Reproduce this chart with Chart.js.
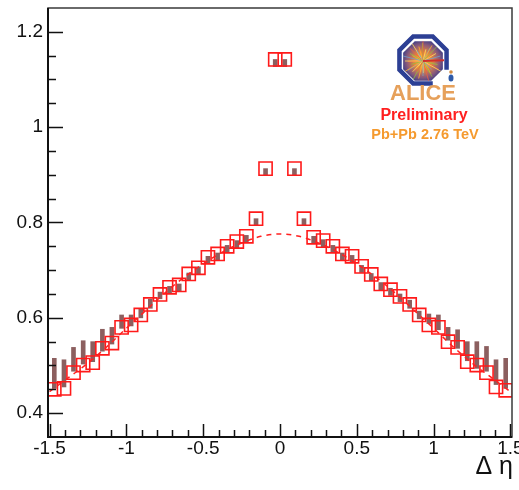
<!DOCTYPE html>
<html lang="en">

<head>
    <meta charset="UTF-8">
    <title>Delta eta projection</title>
    <style>
        body { margin: 0; background: #fff; }
        #grafica { display: block; }
    </style>
    <script src="https://cdn.jsdelivr.net/npm/chart.js@4.4.1/dist/chart.umd.min.js"></script>
</head>

<body>
    <canvas id="grafica" width="519" height="490"></canvas>
    <script>
        // Bin centres in delta eta (bin width 0.0625)
        const etaBins = [-1.469, -1.406, -1.344, -1.281, -1.219, -1.156, -1.094, -1.031, -0.969, -0.906, -0.844, -0.781,
            -0.719, -0.656, -0.594, -0.531, -0.469, -0.406, -0.344, -0.281, -0.219, -0.156, -0.094, -0.031,
            0.031, 0.094, 0.156, 0.219, 0.281, 0.344, 0.406, 0.469, 0.531, 0.594, 0.656, 0.719, 0.781, 0.844,
            0.906, 0.969, 1.031, 1.094, 1.156, 1.219, 1.281, 1.344, 1.406, 1.469];
        // Correlation values (open squares)
        const corrValues = [0.450, 0.452, 0.485, 0.501, 0.506, 0.536, 0.547, 0.580, 0.585, 0.606, 0.628, 0.649,
            0.664, 0.669, 0.692, 0.705, 0.727, 0.734, 0.750, 0.760, 0.771, 0.808, 0.913, 1.142,
            1.142, 0.913, 0.808, 0.769, 0.762, 0.750, 0.734, 0.729, 0.708, 0.691, 0.671, 0.659, 0.645, 0.628,
            0.606, 0.585, 0.580, 0.550, 0.538, 0.508, 0.501, 0.485, 0.455, 0.448];
        // Systematic boxes, lower and upper edge
        const sysLow = [0.452, 0.455, 0.488, 0.503, 0.508, 0.530, 0.545, 0.578, 0.583, 0.600, 0.620, 0.640,
            0.652, 0.657, 0.680, 0.692, 0.714, 0.721, 0.737, 0.747, 0.758, 0.794, 0.899, 1.127,
            1.127, 0.899, 0.794, 0.756, 0.749, 0.737, 0.721, 0.716, 0.695, 0.678, 0.659, 0.647, 0.634, 0.620,
            0.598, 0.588, 0.575, 0.553, 0.536, 0.510, 0.494, 0.488, 0.460, 0.452];
        const sysHigh = [0.515, 0.512, 0.538, 0.552, 0.550, 0.576, 0.580, 0.606, 0.606, 0.619, 0.639, 0.654,
            0.666, 0.671, 0.694, 0.707, 0.729, 0.736, 0.752, 0.762, 0.773, 0.808, 0.913, 1.142,
            1.142, 0.913, 0.808, 0.771, 0.764, 0.752, 0.736, 0.731, 0.710, 0.693, 0.674, 0.662, 0.650, 0.637,
            0.614, 0.608, 0.606, 0.580, 0.575, 0.550, 0.550, 0.540, 0.512, 0.515];
        // Dashed fit curve
        const fitEta = [-1.5, -1.375, -1.25, -1.125, -1.0, -0.875, -0.75, -0.625, -0.5, -0.375, -0.25, -0.125, 0,
            0.125, 0.25, 0.375, 0.5, 0.625, 0.75, 0.875, 1.0, 1.125, 1.25, 1.375, 1.5];
        const fitValues = [0.445, 0.475, 0.505, 0.540, 0.578, 0.615, 0.652, 0.685, 0.713, 0.738, 0.757, 0.771, 0.776,
            0.771, 0.757, 0.738, 0.713, 0.685, 0.652, 0.615, 0.578, 0.540, 0.505, 0.475, 0.445];
        // Labelled ticks
        const xTickLabels = [-1.5, -1, -0.5, 0, 0.5, 1, 1.5];
        const yTickLabels = [0.4, 0.6, 0.8, 1, 1.2];

        const fuente = "'Liberation Sans', Arial, sans-serif";

        const esEtiqueta = (lista, v) => lista.some(t => Math.abs(t - v) < 1e-6);

        // minor tick positions: every 0.1 on x, every 0.05 on y
        const xMarcas = [];
        for (let k = -15; k <= 15; k++) xMarcas.push(k / 10);
        const yMarcas = [];
        for (let k = 8; k <= 24; k++) yMarcas.push(k / 20);

        // Octagon path with flat top and bottom
        function octagonPoints(cx, cy, r) {
            const pts = [];
            for (let k = 0; k < 8; k++) {
                const a = Math.PI / 8 + k * Math.PI / 4;
                pts.push([cx + r * Math.cos(a), cy + r * Math.sin(a)]);
            }
            return pts;
        }

        function drawLogo(ctx) {
            ctx.save();
            // blue frame, open at the bottom
            const outer = octagonPoints(423, 60, 25.5);
            ctx.beginPath();
            ctx.moveTo(outer[1][0], outer[1][1]);
            for (let k = 2; k < 8; k++) ctx.lineTo(outer[k][0], outer[k][1]);
            ctx.lineTo(outer[0][0], outer[0][1]);
            ctx.strokeStyle = '#2c3f94';
            ctx.lineWidth = 4.5;
            ctx.lineJoin = 'miter';
            ctx.stroke();

            // inner detector view
            const inner = octagonPoints(423, 61, 21.5);
            ctx.beginPath();
            inner.forEach((p, i) => i ? ctx.lineTo(p[0], p[1]) : ctx.moveTo(p[0], p[1]));
            ctx.closePath();
            const g = ctx.createRadialGradient(423, 61, 1, 423, 61, 21.5);
            g.addColorStop(0, '#ffd24a');
            g.addColorStop(0.35, '#ef8a3a');
            g.addColorStop(0.75, '#8a5a7a');
            g.addColorStop(1, '#3d3d86');
            ctx.fillStyle = g;
            ctx.fill();
            ctx.save();
            ctx.clip();
            const colores = ['#ffb030', '#8fbf40', '#f06040', '#ffe060', '#6aa0d0'];
            for (let k = 0; k < 36; k++) {
                const a = k * Math.PI / 18 + (k % 3) * 0.07;
                const len = 12 + (k % 4) * 3;
                ctx.beginPath();
                ctx.moveTo(423, 61);
                ctx.lineTo(423 + len * Math.cos(a), 61 + len * Math.sin(a));
                ctx.strokeStyle = colores[k % colores.length];
                ctx.lineWidth = 0.8;
                ctx.stroke();
            }
            ctx.restore();
            ctx.strokeStyle = '#d0302c';
            ctx.lineWidth = 2;
            ctx.stroke();

            // little figure
            ctx.fillStyle = '#d08a40';
            ctx.beginPath();
            ctx.arc(451, 72, 1.8, 0, Math.PI * 2);
            ctx.fill();
            ctx.fillStyle = '#2f5aa8';
            ctx.beginPath();
            ctx.ellipse(451, 78, 2.5, 3.5, 0, 0, Math.PI * 2);
            ctx.fill();

            ctx.textAlign = 'center';
            ctx.textBaseline = 'alphabetic';
            ctx.fillStyle = '#e6a05a';
            ctx.font = "bold 22px " + fuente;
            ctx.fillText('ALICE', 423, 100);
            ctx.fillStyle = '#ff1f1f';
            ctx.font = "bold 16px " + fuente;
            ctx.fillText('Preliminary', 424, 120);
            ctx.fillStyle = '#f59a2e';
            ctx.font = "bold 14.5px " + fuente;
            ctx.fillText('Pb+Pb 2.76 TeV', 425, 139);
            ctx.restore();
        }

        // Frame, inward tick marks, axis title and logo
        const marco = {
            id: 'marco',
            afterDraw(chart) {
                const { ctx, scales } = chart;
                const sx = scales.x, sy = scales.y;
                // frame edges taken from the axis limits
                const izq = sx.getPixelForValue(sx.min);
                const der = sx.getPixelForValue(sx.max);
                const arr = sy.getPixelForValue(sy.max);
                const aba = sy.getPixelForValue(sy.min);
                ctx.save();
                ctx.strokeStyle = '#3a3a3a';
                ctx.lineWidth = 1.5;
                ctx.strokeRect(izq, arr, der - izq, aba - arr);
                ctx.strokeStyle = '#111';
                ctx.lineWidth = 2;
                ctx.beginPath();
                ctx.moveTo(izq, arr);
                ctx.lineTo(izq, aba);
                ctx.lineTo(der, aba);
                ctx.stroke();

                ctx.lineWidth = 1.5;
                ctx.beginPath();
                sy.ticks.forEach(t => {
                    const py = Math.round(sy.getPixelForValue(t.value)) + 0.5;
                    const len = esEtiqueta(yTickLabels, t.value) ? 15 : 8;
                    ctx.moveTo(izq, py);
                    ctx.lineTo(izq + len, py);
                });
                sx.ticks.forEach(t => {
                    const px = Math.round(sx.getPixelForValue(t.value)) + 0.5;
                    const len = esEtiqueta(xTickLabels, t.value) ? 13 : 7;
                    ctx.moveTo(px, aba);
                    ctx.lineTo(px, aba - len);
                });
                ctx.stroke();

                ctx.fillStyle = '#111';
                ctx.font = "25px " + fuente;
                ctx.textAlign = 'right';
                ctx.textBaseline = 'alphabetic';
                ctx.fillText('\u0394 \u03b7', 513, 474);
                ctx.restore();

                drawLogo(ctx);
            }
        };

        const $grafica = document.querySelector('#grafica');
        new Chart($grafica, {
            data: {
                datasets: [
                    {
                        type: 'line',
                        data: fitEta.map((x, i) => ({ x, y: fitValues[i] })),
                        borderColor: '#ff2020',
                        borderWidth: 1.5,
                        borderDash: [5, 5],
                        pointRadius: 0,
                        cubicInterpolationMode: 'monotone',
                        fill: false,
                        order: 1
                    },
                    {
                        type: 'scatter',
                        data: etaBins.map((x, i) => ({ x, y: corrValues[i] })),
                        pointStyle: 'rect',
                        pointRadius: 9.3,
                        borderColor: '#ff1a1a',
                        borderWidth: 1.6,
                        backgroundColor: 'rgba(0,0,0,0)',
                        order: 2
                    },
                    {
                        type: 'bar',
                        data: etaBins.map((x, i) => ({ x, y: [sysLow[i], sysHigh[i]] })),
                        backgroundColor: 'rgba(128,78,78,0.9)',
                        borderWidth: 0,
                        barThickness: 4,
                        order: 3
                    }
                ]
            },
            options: {
                responsive: false,
                animation: false,
                layout: { autoPadding: false, padding: { top: 8, right: 0, left: 0, bottom: 0 } },
                plugins: {
                    legend: { display: false },
                    tooltip: { enabled: false }
                },
                scales: {
                    x: {
                        type: 'linear',
                        min: -1.51,
                        max: 1.51,
                        offset: false,
                        afterFit(scale) {
                            scale.height = 53;
                            scale.paddingLeft = 0;
                            scale.paddingRight = 0;
                        },
                        afterBuildTicks(scale) { scale.ticks = xMarcas.map(v => ({ value: v })); },
                        grid: { display: false, drawTicks: false },
                        border: { display: false },
                        ticks: {
                            autoSkip: false,
                            maxRotation: 0,
                            padding: 0,
                            color: '#111',
                            font: { family: fuente, size: 19 },
                            callback: v => esEtiqueta(xTickLabels, v) ? String(+(+v).toFixed(2)) : ''
                        }
                    },
                    y: {
                        min: 0.35,
                        max: 1.25,
                        afterFit(scale) {
                            scale.width = 48;
                            scale.paddingTop = 0;
                            scale.paddingBottom = 0;
                        },
                        afterBuildTicks(scale) { scale.ticks = yMarcas.map(v => ({ value: v })); },
                        grid: { display: false, drawTicks: false },
                        border: { display: false },
                        ticks: {
                            autoSkip: false,
                            padding: 5,
                            color: '#111',
                            font: { family: fuente, size: 19 },
                            callback: v => esEtiqueta(yTickLabels, v) ? String(+(+v).toFixed(2)) : ''
                        }
                    },
                    // empty strip on the right so the frame sits inside the canvas
                    margenDer: {
                        type: 'linear',
                        position: 'right',
                        afterFit(scale) {
                            scale.width = 7;
                            scale.paddingTop = 0;
                            scale.paddingBottom = 0;
                        },
                        grid: { display: false, drawTicks: false },
                        border: { display: false },
                        ticks: { display: false }
                    }
                }
            },
            plugins: [marco]
        });
    </script>
</body>

</html>
